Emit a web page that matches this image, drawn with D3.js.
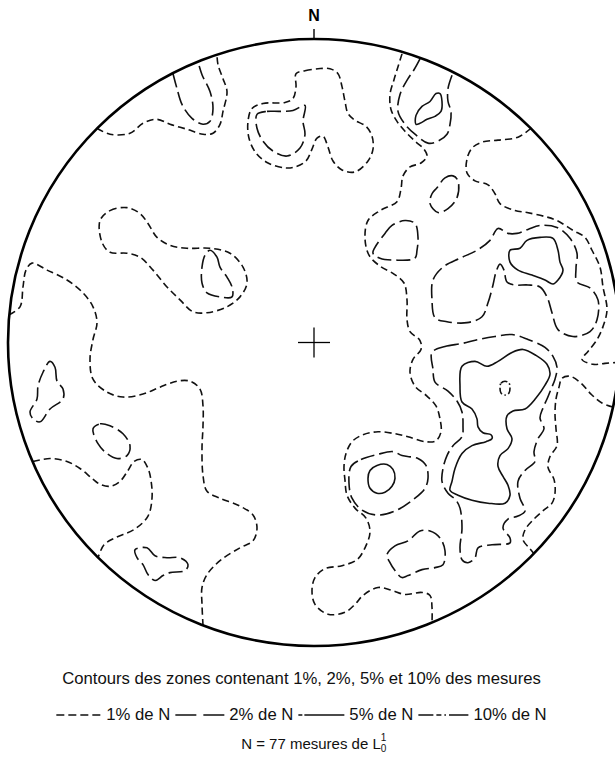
<!DOCTYPE html>
<html><head><meta charset="utf-8">
<script src="https://cdn.jsdelivr.net/npm/d3@7"></script>
<style>body{margin:0;background:#fff}svg{display:block}</style>
</head><body>
<svg id="chart" width="615" height="760"></svg>
<script>
// ---- DATA (net coordinates: x east, y north, primitive radius = 306) ----
const NET_RADIUS = 306;
const levels = ["1%", "2%", "5%", "10%"];
const legendLabels = ["1% de N", "2% de N", "5% de N", "10% de N"];
const titleText = "Contours des zones contenant 1%, 2%, 5% et 10% des mesures";
const countText = "N = 77 mesures de L";

const c1_A = [[-217,216],[-204,210],[-184,211],[-171,221],[-157,225],[-144,220],[-127,215],[-111,210],[-101,211],[-94,220],[-91,233],[-87,253],[-91,266],[-96,280],[-97,290]];
const c2_A = [[-141,271],[-137,256],[-132,240],[-122,226],[-111,220],[-104,223],[-101,236],[-104,253],[-112,270],[-116,283]];
const c1_B = [[-18,271],[-9,274],[4,276],[16,276],[24,271],[28,258],[31,243],[34,231],[41,224],[52,218],[58,208],[59,195],[54,183],[41,172],[28,174],[19,183],[14,197],[9,208],[3,206],[-2,195],[-8,183],[-19,177],[-29,176],[-46,181],[-58,191],[-65,206],[-66,223],[-62,236],[-51,241],[-29,242],[-21,246],[-18,258]];
const c2_B = [[-57,230],[-47,233],[-34,233],[-21,234],[-9,239],[-11,223],[-9,210],[-14,196],[-27,188],[-41,193],[-51,203],[-57,216]];
const c1_C = [[88,291],[84,278],[80,265],[76,250],[77,235],[83,223],[91,213],[101,203],[110,195],[113,188],[107,181],[96,177],[89,168],[87,155],[83,142],[66,133],[54,123],[51,105],[55,88],[66,77],[80,69],[90,60],[93,43],[93,23],[96,11],[106,2],[107,-7],[99,-17],[96,-30],[101,-44],[113,-54],[122,-64],[126,-77],[127,-90],[122,-99],[111,-100],[94,-95],[81,-92],[64,-90],[49,-93],[38,-100],[32,-112],[30,-125],[31,-139],[33,-154],[41,-167],[52,-177],[56,-191],[51,-207],[43,-219],[28,-225],[11,-228],[1,-237],[-2,-250],[1,-264],[14,-274],[31,-272],[41,-264],[49,-255],[64,-247],[78,-250],[91,-254],[108,-252],[116,-255],[118,-267],[118,-282]];
const c2_C = [[106,286],[100,275],[94,266],[86,250],[84,233],[91,220],[101,210],[114,201],[124,203],[133,210],[136,220],[137,233],[134,243],[134,256],[139,272]];
const c5_C = [[102,220],[102,229],[108,238],[116,243],[122,251],[126,251],[128,243],[127,233],[121,228],[113,225],[106,221]];
const c1_R = [[217,216],[204,207],[184,204],[168,202],[158,196],[153,185],[153,171],[161,163],[174,159],[181,150],[186,140],[201,133],[213,131],[231,127],[243,123],[259,113],[271,106],[278,93],[286,76],[289,56],[293,33],[289,16],[283,3],[274,-9],[268,-17],[279,-22],[291,-21],[305,-20]];
const c2_E = [[184,115],[194,110],[203,110],[214,114],[226,118],[243,116],[256,105],[263,90],[262,75],[263,61],[276,55],[284,43],[283,23],[276,11],[259,6],[244,13],[238,30],[233,46],[226,56],[214,58],[201,58],[193,61],[190,73],[186,79],[182,71],[179,58],[174,40],[168,26],[153,20],[133,21],[121,25],[118,43],[119,63],[129,76],[146,85],[163,93],[176,103]];
const c5_E = [[196,93],[206,95],[213,103],[226,106],[239,105],[244,93],[246,81],[249,73],[244,63],[239,59],[231,63],[218,68],[204,73],[196,81]];
const c2_F = [[123,156],[131,166],[139,168],[144,163],[143,146],[134,135],[124,131],[116,140],[118,150]];
const c2_G = [[61,96],[71,110],[78,118],[91,123],[101,120],[104,106],[103,93],[101,85],[84,83],[66,85],[59,90]];
const c1_I = [[299,-65],[288,-61],[277,-52],[267,-41],[256,-34],[248,-36],[245,-45],[242,-57],[241,-72],[242,-87],[243,-104],[236,-115],[234,-126],[240,-138],[241,-152],[238,-162],[231,-168],[221,-177],[211,-189],[209,-199],[216,-208],[220,-213]];
const c2_J = [[118,-10],[131,-4],[148,-1],[164,3],[181,6],[198,8],[214,3],[231,-5],[239,-14],[243,-25],[241,-37],[237,-47],[233,-57],[229,-66],[226,-76],[230,-87],[224,-97],[220,-110],[221,-120],[211,-129],[204,-140],[206,-157],[211,-170],[204,-175],[194,-178],[189,-187],[196,-197],[196,-202],[178,-204],[164,-207],[161,-217],[154,-222],[148,-219],[146,-207],[148,-187],[146,-167],[142,-159],[134,-152],[128,-140],[129,-127],[133,-114],[139,-104],[148,-95],[149,-84],[148,-70],[143,-59],[134,-49],[121,-40],[119,-27]];
const c5_J = [[148,-24],[161,-19],[173,-24],[184,-19],[198,-10],[209,-7],[222,-13],[233,-22],[236,-32],[231,-43],[222,-56],[211,-67],[199,-69],[193,-74],[193,-87],[198,-97],[194,-107],[186,-114],[184,-125],[189,-135],[194,-144],[196,-154],[191,-162],[174,-162],[158,-159],[144,-154],[136,-149],[138,-140],[141,-127],[148,-112],[158,-104],[172,-100],[178,-97],[177,-93],[169,-91],[164,-85],[163,-77],[158,-67],[148,-60],[146,-44]];
const c10_J = [[186,-46],[187,-41],[191,-39],[195,-41],[196,-46],[195,-51],[191,-53],[187,-51]];
const c2_K = [[37,-125],[47,-118],[63,-113],[79,-110],[88,-114],[104,-117],[112,-124],[114,-137],[111,-147],[101,-157],[83,-169],[64,-174],[48,-169],[38,-157],[35,-142]];
const c5_K = [[54,-137],[56,-129],[63,-124],[73,-123],[79,-128],[81,-137],[78,-145],[71,-151],[63,-152],[56,-147]];
const c2_L = [[73,-214],[81,-205],[94,-200],[106,-190],[116,-190],[126,-197],[131,-210],[129,-224],[121,-227],[108,-229],[94,-235],[88,-237],[81,-230],[76,-222]];
const c1_M = [[-214,123],[-204,133],[-187,136],[-174,130],[-166,120],[-157,106],[-144,98],[-127,95],[-104,95],[-84,90],[-71,76],[-67,60],[-74,46],[-87,36],[-107,30],[-121,31],[-134,43],[-147,56],[-161,73],[-174,86],[-187,90],[-204,91],[-212,101]];
const c2_M = [[-104,93],[-97,86],[-94,76],[-87,66],[-82,56],[-82,46],[-94,46],[-107,50],[-112,60],[-112,76],[-109,88]];
const c1_N = [[-305,28],[-294,36],[-291,56],[-288,73],[-282,80],[-267,73],[-247,63],[-231,50],[-221,36],[-217,20],[-221,3],[-224,-17],[-221,-37],[-207,-50],[-191,-55],[-171,-52],[-154,-45],[-137,-39],[-124,-39],[-114,-47],[-111,-64],[-111,-84],[-112,-107],[-111,-134],[-107,-150],[-94,-157],[-74,-165],[-61,-174],[-57,-187],[-61,-200],[-74,-207],[-94,-220],[-107,-234],[-112,-247],[-112,-264],[-111,-285]];
const c2_O = [[-264,-19],[-259,-25],[-257,-39],[-251,-47],[-251,-57],[-264,-67],[-274,-80],[-281,-77],[-284,-70],[-277,-57],[-276,-44],[-271,-30]];
const c2_P = [[-221,-87],[-214,-82],[-204,-84],[-191,-92],[-184,-104],[-187,-114],[-197,-117],[-207,-112],[-216,-102]];
const c1_Q = [[-281,-120],[-264,-117],[-247,-120],[-234,-127],[-222,-137],[-214,-143],[-204,-145],[-194,-140],[-186,-129],[-180,-120],[-172,-118],[-166,-127],[-163,-139],[-162,-157],[-166,-175],[-179,-188],[-199,-197],[-210,-204],[-216,-217]];
const c2_S = [[-179,-209],[-167,-207],[-159,-215],[-147,-217],[-134,-217],[-126,-224],[-129,-230],[-144,-232],[-151,-235],[-159,-240],[-166,-234],[-171,-224],[-177,-217]];

const contours = [
  {level:"1%", closed:false, pts:c1_A}, {level:"2%", closed:false, pts:c2_A},
  {level:"1%", closed:true,  pts:c1_B}, {level:"2%", closed:true,  pts:c2_B},
  {level:"1%", closed:false, pts:c1_C}, {level:"2%", closed:false, pts:c2_C},
  {level:"5%", closed:true,  pts:c5_C},
  {level:"1%", closed:false, pts:c1_R}, {level:"2%", closed:true,  pts:c2_E},
  {level:"5%", closed:true,  pts:c5_E}, {level:"2%", closed:true,  pts:c2_F},
  {level:"2%", closed:true,  pts:c2_G}, {level:"1%", closed:false, pts:c1_I},
  {level:"2%", closed:true,  pts:c2_J}, {level:"5%", closed:true,  pts:c5_J},
  {level:"10%", closed:true, pts:c10_J},
  {level:"2%", closed:true,  pts:c2_K}, {level:"5%", closed:true,  pts:c5_K},
  {level:"2%", closed:true,  pts:c2_L},
  {level:"1%", closed:true,  pts:c1_M}, {level:"2%", closed:true,  pts:c2_M},
  {level:"1%", closed:false, pts:c1_N}, {level:"2%", closed:true,  pts:c2_O},
  {level:"2%", closed:true,  pts:c2_P}, {level:"1%", closed:false, pts:c1_Q},
  {level:"2%", closed:true,  pts:c2_S}
];

// ---- DRAWING ----
const svg = d3.select("#chart");
const x = d3.scaleLinear().domain([-NET_RADIUS, NET_RADIUS]).range([8, 620]);
const y = d3.scaleLinear().domain([-NET_RADIUS, NET_RADIUS]).range([646, 39]);
const RX = x(NET_RADIUS) - x(0);
const RY = y(0) - y(NET_RADIUS);
const FONT = "'Liberation Sans', Arial, Helvetica, sans-serif";

const mapDash = {"1%":"7,4", "2%":"14,5", "5%":null, "10%":"7,2.5,1.5,2.5"};
const legendDash = {"1%":"8,4", "2%":"21,7", "5%":"4,2,60", "10%":"15,3,5,3,1.6,3,30"};

const lineOpen = d3.line().x(d => x(d[0])).y(d => y(d[1])).curve(d3.curveCatmullRom.alpha(0.5));
const lineClosed = d3.line().x(d => x(d[0])).y(d => y(d[1])).curve(d3.curveCatmullRomClosed.alpha(0.5));

const g = svg.append("g");
g.selectAll("path.contour").data(contours).join("path")
  .attr("class", "contour")
  .attr("d", d => (d.closed ? lineClosed : lineOpen)(d.pts))
  .attr("fill", "none").attr("stroke", "#111")
  .attr("stroke-width", 1.6)
  .attr("stroke-dasharray", d => mapDash[d.level]);

// primitive circle
svg.append("ellipse").attr("cx", x(0)).attr("cy", y(0)).attr("rx", RX).attr("ry", RY)
  .attr("fill", "none").attr("stroke", "#000").attr("stroke-width", 2.6);

// centre cross
const arm = 16;
svg.append("line").attr("x1", x(-arm)).attr("x2", x(arm)).attr("y1", y(0)).attr("y2", y(0))
  .attr("stroke", "#000").attr("stroke-width", 1.3);
svg.append("line").attr("x1", x(0)).attr("x2", x(0)).attr("y1", y(arm - 1)).attr("y2", y(-arm + 1))
  .attr("stroke", "#000").attr("stroke-width", 1.3);

// north tick & label
svg.append("line").attr("x1", x(0)).attr("x2", x(0)).attr("y1", y(NET_RADIUS)).attr("y2", y(NET_RADIUS) - 10)
  .attr("stroke", "#000").attr("stroke-width", 1.4);
svg.append("text").attr("x", x(0)).attr("y", 21).attr("text-anchor", "middle")
  .attr("font-family", FONT).attr("font-weight", "bold").attr("font-size", 16).text("N");

// title line
svg.append("text").attr("x", 301.5).attr("y", 684).attr("text-anchor", "middle")
  .attr("font-family", FONT).attr("font-size", 16.7).attr("fill", "#111").text(titleText);

// legend line
const lg = svg.append("g");
const sampleW = [45, 49, 46, 50];
let cx = 0;
const items = levels.map((lv, i) => ({lv, label: legendLabels[i], w: sampleW[i]}));
items.forEach(it => {
  lg.append("line").attr("x1", cx).attr("x2", cx + it.w).attr("y1", 715).attr("y2", 715)
    .attr("stroke", "#111").attr("stroke-width", 1.7).attr("stroke-dasharray", legendDash[it.lv]);
  cx += it.w + 5;
  const t = lg.append("text").attr("x", cx).attr("y", 720).attr("font-family", FONT)
    .attr("font-size", 16.7).attr("fill", "#111").text(it.label);
  cx += t.node().getComputedTextLength() + 5;
});
cx -= 5;
lg.attr("transform", `translate(${301.5 - cx / 2},0)`);

// count line with sub/superscript
const ct = svg.append("text").attr("y", 749).attr("font-family", FONT).attr("font-size", 15).attr("fill", "#111");
ct.append("tspan").text(countText);
ct.append("tspan").attr("font-size", 10).attr("dy", 3).text("0");
ct.append("tspan").attr("font-size", 10).attr("dx", -5.6).attr("dy", -11).text("1");
const ctw = ct.node().getBBox().width;
ct.attr("x", 314 - ctw / 2);
</script>
</body></html>
